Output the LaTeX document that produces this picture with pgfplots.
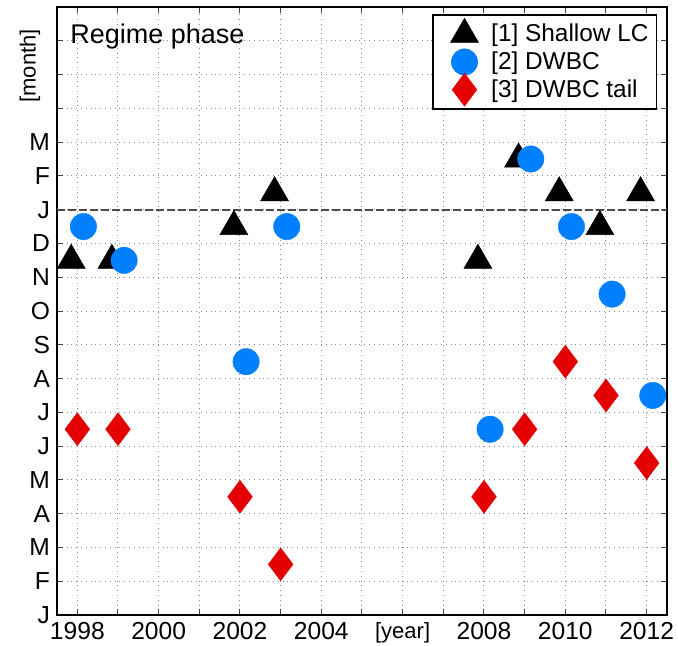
\documentclass[border=0pt]{standalone}
\usepackage{fontspec}
\setmainfont{Liberation Sans}
\usepackage{pgfplots}
\pgfplotsset{compat=1.18}
\definecolor{mblue}{rgb}{0,0.5,1}
\definecolor{mred}{rgb}{0.9,0,0}
\pgfplotsset{mylegimg/.style={legend image code/.code={%
  \draw[##1, overlay] plot coordinates {(13.5pt,0pt)};
  \path (0pt,-4pt) (24.5pt,4pt);}}}
\begin{document}
\begin{tikzpicture}
\begin{axis}[
  scale only axis,
  width=305pt, height=304pt,
  xmin=1997.5, xmax=2012.5,
  ymin=0, ymax=18,
  xtick={1998,...,2012},
  xticklabels={1998,,2000,,2002,,2004,,{\fontsize{11}{13}\selectfont [year]},,2008,,2010,,2012},
  ytick={0,...,18},
  yticklabels={J,F,M,A,M,J,J,A,S,O,N,D,J,F,M,,,,},
  ticklabel style={font=\fontsize{12.3}{14}\selectfont},
  tick align=inside,
  tick pos=both,
  major tick length=3pt,
  tick style={black!75, line width=0.5pt},
  grid=major,
  major grid style={dotted, black!45, line width=0.5pt},
  axis line style={black, line width=0.8pt},
  legend style={at={(rel axis cs:0.984,0.988)}, anchor=north east,
    font=\fontsize{12.2}{14}\selectfont, draw=black, line width=0.7pt,
    inner xsep=2pt, inner ysep=2.5pt, row sep=-0.5pt},
  legend cell align=left,
  clip=false,
]
\addplot[forget plot, black!70, line width=0.9pt, dash pattern=on 4pt off 1.5pt] coordinates {(1997.5,12) (2012.5,12)};
\addplot[only marks, mylegimg, color=black, mark=triangle*, mark size=8.1pt, mark options={fill=black, draw=black, line width=0.2pt}] coordinates {
 (1997.85,10.5) (1998.85,10.5) (2001.85,11.5) (2002.85,12.5) (2007.85,10.5) (2008.85,13.5) (2009.85,12.5) (2010.85,11.5) (2011.85,12.5)};
\addlegendentry{[1] Shallow LC}
\addplot[only marks, mylegimg, color=mblue, mark=*, mark size=6.6pt, mark options={fill=mblue, draw=mblue, line width=0.2pt}] coordinates {
 (1998.15,11.5) (1999.15,10.5) (2002.15,7.5) (2003.15,11.5) (2008.15,5.5) (2009.15,13.5) (2010.15,11.5) (2011.15,9.5) (2012.15,6.5)};
\addlegendentry{[2] DWBC}
\addplot[only marks, mylegimg, color=mred, mark=diamond*, mark size=8.25pt, mark options={fill=mred, draw=mred, line width=0.2pt}] coordinates {
 (1998,5.5) (1999,5.5) (2002,3.5) (2003,1.5) (2008,3.5) (2009,5.5) (2010,7.5) (2011,6.5) (2012,4.5)};
\addlegendentry{[3] DWBC tail}
\node[anchor=west, inner sep=0pt, font=\fontsize{13.5}{15}\selectfont] at (rel axis cs:0.0213,0.952) {Regime phase};
\node[rotate=90, font=\fontsize{11}{13}\selectfont] at (rel axis cs:-0.0443,0.903) {[month]};
\node[anchor=north east, font=\fontsize{12.3}{14}\selectfont] at (rel axis cs:-0.0803,0) {2};
\end{axis}
\pgfresetboundingbox
\path[use as bounding box] ([xshift=-28.5pt,yshift=-15pt]current axis.south west) rectangle ([xshift=5.5pt,yshift=3.5pt]current axis.north east);
\end{tikzpicture}
\end{document}
